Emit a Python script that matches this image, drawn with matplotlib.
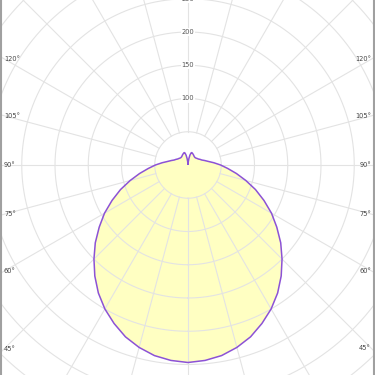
import numpy as np
import matplotlib
matplotlib.use('Agg')
import matplotlib.pyplot as plt
from matplotlib.lines import Line2D

# Кривая силы света (угол от надира, градусы -> кд), симметричная
angles = [0, 5, 10, 15, 20, 25, 30, 35, 40, 45, 50, 55, 60, 65, 70, 75, 80, 85,
          90, 95, 100, 105, 110, 115, 120, 125, 130, 135, 140, 145, 150, 155,
          160, 163, 166, 169, 172, 175, 178, 180]
intensity = [297, 295, 291, 284, 275, 263, 250, 235, 218, 200, 182, 163, 145,
             126, 108, 90, 74, 60, 49, 39, 31, 26, 22, 20, 18, 17, 16, 15.5,
             15.5, 16, 17, 18, 19, 19.5, 18.5, 15, 10, 5, 2, 1.5]

ring_values = [50, 100, 150, 200, 250, 300, 350, 400, 450]
ring_labels = [100, 150, 200, 250]
spoke_step = 15
angle_labels = [45, 60, 75, 90, 105, 120]

rmax = 450
px_per_unit = 0.665

W = 375
fig = plt.figure(figsize=(3.75, 3.75), dpi=100)
cx, cy = 188 / W, (W - 165) / W
half = rmax * px_per_unit / W
ax = fig.add_axes([cx - half, cy - half, 2 * half, 2 * half], projection='polar')
ax.set_theta_zero_location('S')
ax.set_ylim(0, rmax)
ax.spines['polar'].set_visible(False)
ax.set_xticks([])
ax.set_yticks([])
ax.grid(False)

grid_col = '#e3e3e3'
# кольца
t = np.linspace(0, 2 * np.pi, 400)
for rv in ring_values:
    ax.plot(t, np.full_like(t, rv), color=grid_col, lw=0.8, zorder=2)
# лучи (начинаются от кольца 50)
for a in range(0, 360, spoke_step):
    ax.plot([np.radians(a)] * 2, [50, rmax], color=grid_col, lw=0.8, zorder=2)

# кривая
ang = np.array(angles, dtype=float)
val = np.array(intensity, dtype=float)
th = np.radians(np.concatenate([-ang[::-1], ang[1:]]))
rr = np.concatenate([val[::-1], val[1:]])
ax.fill(th, rr, color='#ffffc2', zorder=1, lw=0)
ax.plot(th, rr, color='#8c52d6', lw=1.1, zorder=3)

# подписи колец
for rv in ring_labels:
    ax.text(np.pi, rv, str(rv), ha='center', va='center', fontsize=4.8,
            color='#555555', zorder=4,
            bbox=dict(boxstyle='square,pad=0.15', fc='white', ec='none'))

# подписи углов у краёв
edge_px = 184
for a in angle_labels:
    r = edge_px / (px_per_unit * np.sin(np.radians(a)))
    ax.text(-np.radians(a), r, f'{a}°', ha='left', va='center', fontsize=4.8,
            color='#444444', clip_on=False)
    r2 = (edge_px - 1) / (px_per_unit * np.sin(np.radians(a)))
    ax.text(np.radians(a), r2, f'{a}°', ha='right', va='center', fontsize=4.8,
            color='#444444', clip_on=False)

# серые боковые рамки
for x in [1 / W, 1 - 1 / W]:
    fig.add_artist(Line2D([x, x], [0, 1], transform=fig.transFigure,
                          color='#a0a0a0', lw=1.5))

plt.savefig('out.png', dpi=100)
